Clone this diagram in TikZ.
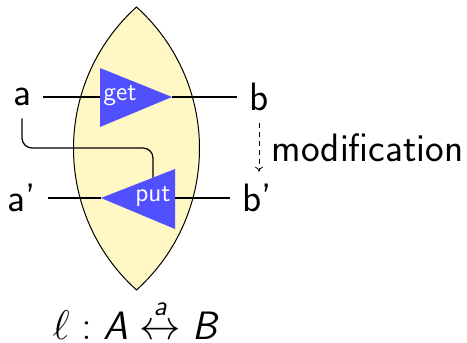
\documentclass[tikz,border=0pt]{standalone}
\usepackage{amsmath}
\usetikzlibrary{arrows.meta, positioning}
\definecolor{lensfill}{RGB}{255,248,196}
\definecolor{opblue}{RGB}{80,80,255}

\begin{document}
\begin{tikzpicture}[
    x=0.5pt, y=0.5pt,
    lbl/.style={font=\fontsize{19.8}{23}\selectfont\sffamily, inner sep=6pt},
    oplbl/.style={font=\fontsize{13}{15}\selectfont\sffamily, text=white, inner sep=0pt},
    lens/.style={fill=lensfill, draw=black, line width=0.5pt},
    tri/.style={fill=opblue},
    wire/.style={line width=0.6pt},
    modarr/.style={dash pattern=on 2.5pt off 2pt, line width=0.4pt, -{To[length=2.5pt, width=4pt]}}
  ]
  \useasboundingbox (0,0) rectangle (467,343);

  % Lens
  \draw[lens] (136.5,336) arc[start angle=48, end angle=-48, radius=190.4]
              arc[start angle=228, end angle=132, radius=190.4] -- cycle;

  % Triangles
  \coordinate (gtop) at (100,275);
  \coordinate (gbot) at (100,216);
  \coordinate (gtip) at (172,246);
  \coordinate (gin)  at (100,246);
  \coordinate (ptop) at (175,174);
  \coordinate (pbot) at (175,114);
  \coordinate (ptip) at (101,145);
  \coordinate (pout) at (175,145);
  \fill[tri] (gtop) -- (gtip) -- (gbot) -- cycle;
  \fill[tri] (ptop) -- (ptip) -- (pbot) -- cycle;
  \node[oplbl] (get) at (120,247) {get};
  \node[oplbl] (put) at (153,146) {put};

  % Nodes
  \node[lbl] (a)  at (22,246)  {a};
  \node[lbl] (b)  at (259,246) {b};
  \node[lbl] (ap) at (21.5,145) {a'};
  \node[lbl] (bp) at (257.5,145) {b'};
  \node[lbl, inner sep=0pt] (mod) at (367.5,195.5) {modification};
  \node[lbl, inner sep=0pt] (lname) at (135,24)
    {$\ell : \textit{A} \overset{\textit{a}}{\leftrightarrow} \textit{B}$};

  % Wires
  \coordinate (pin)  at (153,165.4);
  \coordinate (bend) at (153,195);
  \draw[wire] (a) -- (gin);
  \draw[wire] (gtip) -- (b);
  \draw[wire] (ap) -- (ptip);
  \draw[wire] (pout) -- (bp);
  \draw[wire, rounded corners=5pt] (a.south) |- (bend) -- (pin);
  \draw[modarr] (b.south) -- (b.south |- bp.north);
\end{tikzpicture}
\end{document}
